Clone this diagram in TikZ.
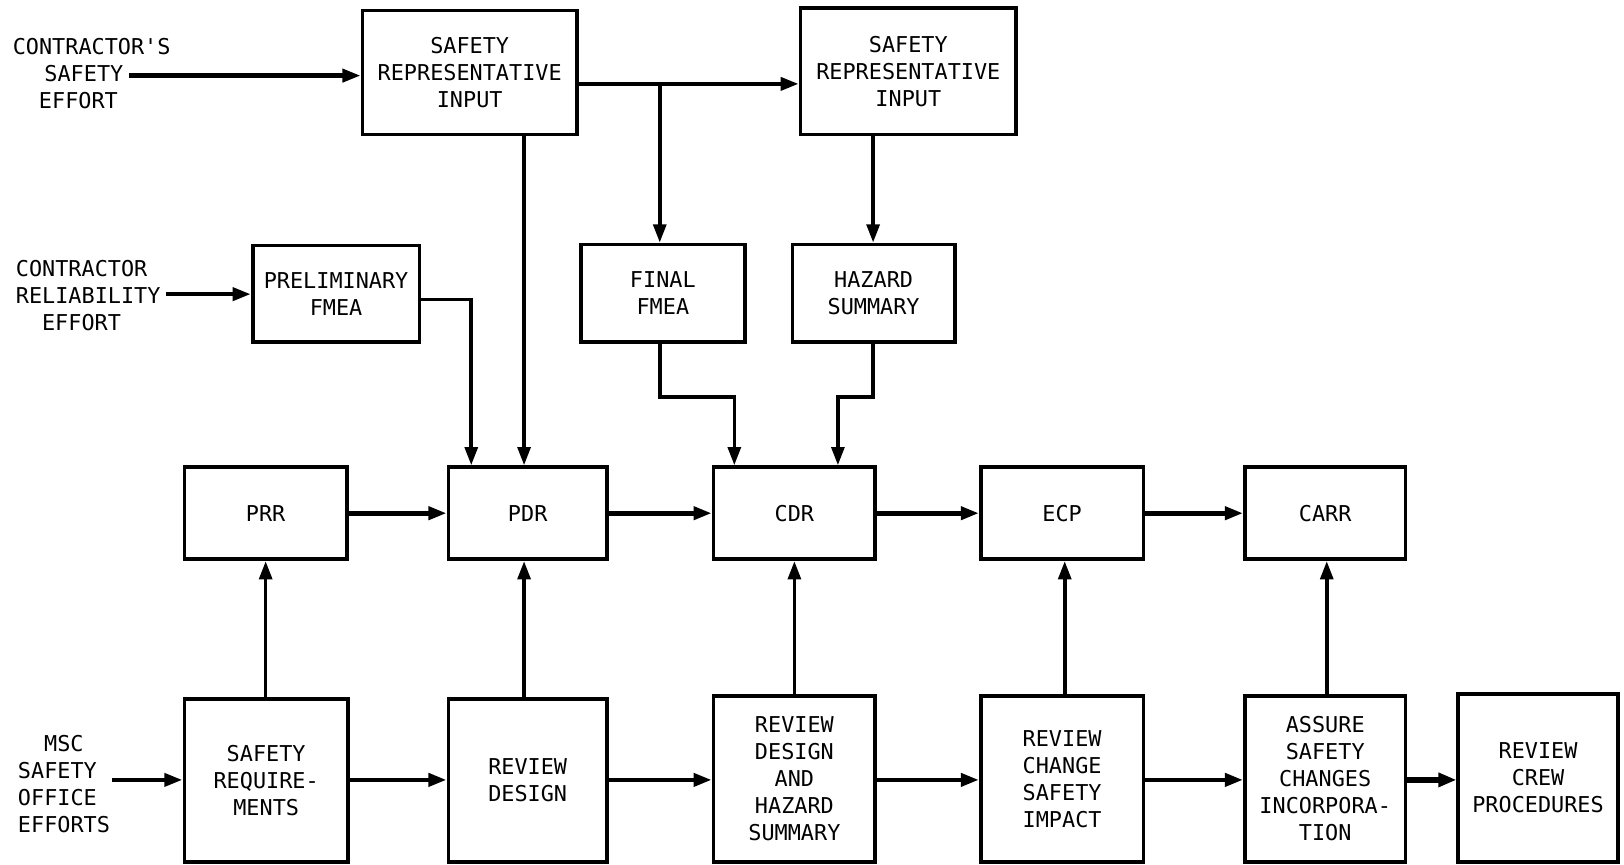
\documentclass[tikz,border=0pt]{standalone}
\usepackage{fontspec}
\setmonofont{DejaVu Sans Mono}
\usetikzlibrary{arrows.meta,calc}
\tikzset{
  box/.style 2 args={draw, line width=2pt, inner sep=0pt, align=center,
     minimum width=#1*0.02cm, minimum height=#2*0.02cm,
     font=\ttfamily\fontsize{12}{14.8}\selectfont},
  lbl/.style={inner sep=0pt, align=left, font=\ttfamily\fontsize{12}{14.8}\selectfont},
  tip/.style={-{Triangle[length=10pt,width=7pt]}},
  arr/.style={line width=2.4pt, tip},
  varr/.style={line width=2pt, tip},
  harr/.style={line width=2.6pt, tip},
  barr/.style={line width=3.6pt, -{Triangle[length=10pt,width=7.5pt]}},
}
\begin{document}
\begin{tikzpicture}[x=0.02cm, y=-0.02cm]
\useasboundingbox (0,0) rectangle (1568,835);
\fill[white] (0,0) rectangle (1568,835);

% top row
\node[box={207}{120}] (sri1) at (453.5,70) {SAFETY\\REPRESENTATIVE\\INPUT};
\node[box={208}{122}] (sri2) at (877,69) {SAFETY\\REPRESENTATIVE\\INPUT};

% second row
\node[box={161}{93}] (pfmea) at (324.5,283.5) {PRELIMINARY\\FMEA};
\node[box={158}{94}] (ffmea) at (640,283) {FINAL\\FMEA};
\node[box={157}{94}] (hsum) at (843.5,283) {HAZARD\\SUMMARY};

% third row
\node[box={157}{89}] (prr) at (256.5,495.5) {PRR};
\node[box={153}{89}] (pdr) at (509.5,495.5) {PDR};
\node[box={156}{89}] (cdr) at (767,495.5) {CDR};
\node[box={157}{89}] (ecp) at (1025.5,495.5) {ECP};
\node[box={155}{89}] (carr) at (1279.5,495.5) {CARR};

% bottom row
\node[box={158}{157}] (sreq) at (257,753.5) {SAFETY\\REQUIRE-\\MENTS};
\node[box={153}{157}] (rdes) at (509.5,753.5) {REVIEW\\DESIGN};
\node[box={156}{160}] (rdhs) at (767,752) {REVIEW\\DESIGN\\AND\\HAZARD\\SUMMARY};
\node[box={157}{160}] (rcsi) at (1025.5,752) {REVIEW\\CHANGE\\SAFETY\\IMPACT};
\node[box={155}{160}] (asci) at (1279.5,752) {ASSURE\\SAFETY\\CHANGES\\INCORPORA-\\TION};
\node[box={154}{162}] (rcp) at (1485,751) {REVIEW\\CREW\\PROCEDURES};

% left labels
\node[lbl, anchor=west] (lcs) at (12,71) {CONTRACTOR'S\\\hspace*{1.45em}SAFETY\\\hspace*{1.2em}EFFORT};
\node[lbl, anchor=west] (lcr) at (15,285) {CONTRACTOR\\RELIABILITY\\\hspace*{1.2em}EFFORT};
\node[lbl, anchor=west] (lmsc) at (17,757) {\hspace*{1.2em}MSC\\SAFETY\\OFFICE\\EFFORTS};

% free ends / junctions
\coordinate (cs) at (125,73);
\coordinate (cr) at (160,284);
\coordinate (cm) at (108,753);
\coordinate (j) at (637,81);
\coordinate (xa) at (506,0);
\coordinate (pf) at (455,289);
\coordinate (f1) at (637,383);
\coordinate (f2) at (709,383);
\coordinate (h1) at (843,383);
\coordinate (h2) at (809,383);

% input arrows
\draw[arr] (cs) -- (sri1.west |- cs);
\draw[arr] (cr) -- (pfmea.west |- cr);
\draw[arr] (cm) -- (sreq.west |- cm);

% top connections
\draw[arr] (sri1.east |- j) -- (sri2.west |- j);
\draw[varr] (j) -- (ffmea.north -| j);
\draw[varr] (sri1.south -| xa) -- (pdr.north -| xa);
\draw[varr] (sri2.south -| h1) -- (hsum.north -| h1);
\draw[varr] (pfmea.east |- pf) -- (pf) -- (pdr.north -| pf);
\draw[varr] (ffmea.south -| f1) -- (f1) -- (f2) -- (cdr.north -| f2);
\draw[varr] (hsum.south -| h1) -- (h1) -- (h2) -- (cdr.north -| h2);

% third row
\draw[harr] (prr) -- (pdr);
\draw[harr] (pdr) -- (cdr);
\draw[harr] (cdr) -- (ecp);
\draw[harr] (ecp) -- (carr);

% bottom row
\draw[harr] (sreq.east |- cm) -- (rdes.west |- cm);
\draw[harr] (rdes.east |- cm) -- (rdhs.west |- cm);
\draw[harr] (rdhs.east |- cm) -- (rcsi.west |- cm);
\draw[harr] (rcsi.east |- cm) -- (asci.west |- cm);
\draw[barr] (asci.east |- cm) -- (rcp.west |- cm);

% verticals up
\draw[varr] (sreq.north -| prr) -- (prr.south);
\draw[varr] (rdes.north -| xa) -- (pdr.south -| xa);
\draw[varr] (rdhs.north) -- (cdr.south);
\draw[varr] (rcsi.north -| 1028,0) -- (ecp.south -| 1028,0);
\draw[varr] (asci.north -| 1281,0) -- (carr.south -| 1281,0);
\end{tikzpicture}
\end{document}
